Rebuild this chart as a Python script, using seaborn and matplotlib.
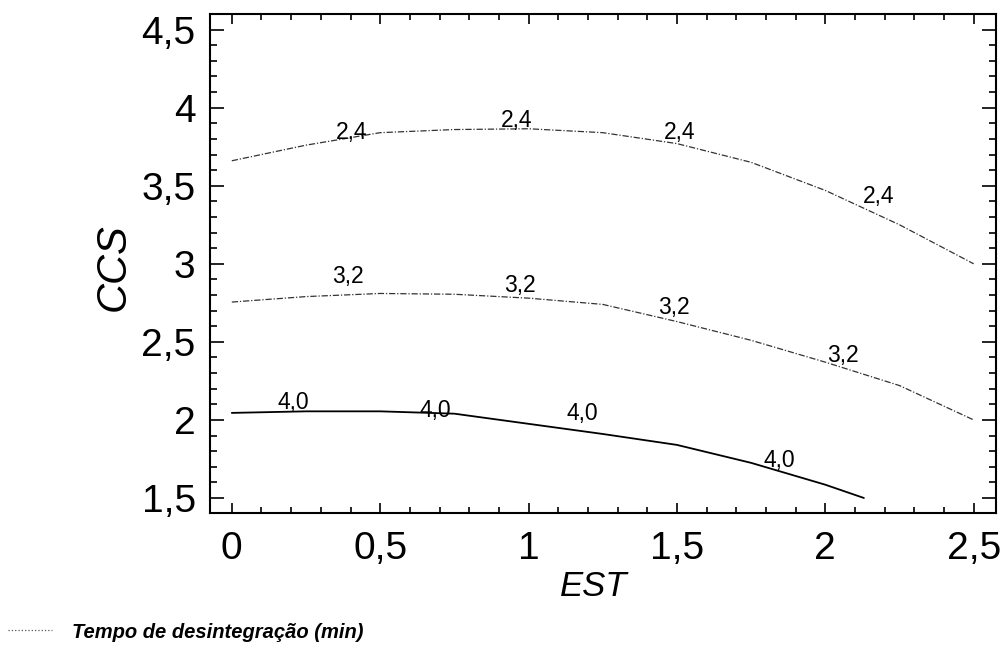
import numpy as np
import pandas as pd
import matplotlib
matplotlib.use("Agg")
import matplotlib.pyplot as plt
from matplotlib.lines import Line2D
from matplotlib.ticker import MultipleLocator, FixedLocator
import seaborn as sns

# ---- data ----
est_24 = [0.0, 0.25, 0.5, 0.75, 1.0, 1.25, 1.5, 1.75, 2.0, 2.25, 2.5]
ccs_24 = [3.66, 3.76, 3.84, 3.86, 3.865, 3.84, 3.77, 3.65, 3.47, 3.25, 3.0]

est_32 = [0.0, 0.25, 0.5, 0.75, 1.0, 1.25, 1.5, 1.75, 2.0, 2.25, 2.5]
ccs_32 = [2.755, 2.79, 2.81, 2.805, 2.78, 2.74, 2.63, 2.51, 2.37, 2.22, 2.0]

est_40 = [0.0, 0.25, 0.5, 0.75, 1.0, 1.25, 1.5, 1.75, 2.0, 2.13]
ccs_40 = [2.045, 2.055, 2.055, 2.04, 1.975, 1.91, 1.84, 1.725, 1.585, 1.5]

levels = ["2,4", "3,2", "4,0"]
label_x_24 = [0.405, 0.96, 1.51, 2.18]
label_y_24 = [3.84, 3.92, 3.84, 3.43]
label_x_32 = [0.39, 0.97, 1.49, 2.06]
label_y_32 = [2.92, 2.86, 2.72, 2.41]
label_x_40 = [0.207, 0.685, 1.18, 1.846]
label_y_40 = [2.11, 2.06, 2.04, 1.743]

xticks = [0, 0.5, 1, 1.5, 2, 2.5]
xticklabels = ["0", "0,5", "1", "1,5", "2", "2,5"]
yticks = [1.5, 2, 2.5, 3, 3.5, 4, 4.5]
yticklabels = ["1,5", "2", "2,5", "3", "3,5", "4", "4,5"]

sns.set_theme(style="ticks")
plt.rcParams["font.family"] = ["Liberation Sans", "DejaVu Sans"]
plt.rcParams.update({"text.color": "black", "axes.labelcolor": "black",
                     "xtick.color": "black", "ytick.color": "black",
                     "xtick.labelcolor": "black", "ytick.labelcolor": "black"})

fig = plt.figure(figsize=(10.06, 6.49), dpi=100)
ax = fig.add_axes([0.2083, 0.2096, 0.7817, 0.7688])

dashdot = (0, (5, 1.5, 1, 1.5))
specs = [
    (est_24, ccs_24, "#333333", dashdot, 0.9, label_x_24, label_y_24, levels[0]),
    (est_32, ccs_32, "#333333", dashdot, 0.9, label_x_32, label_y_32, levels[1]),
    (est_40, ccs_40, "black", "-", 1.3, label_x_40, label_y_40, levels[2]),
]
for xs, ys, col, ls, lw, lx, ly, lab in specs:
    df = pd.DataFrame({"EST": xs, "CCS": ys})
    sns.lineplot(data=df, x="EST", y="CCS", ax=ax, sort=False, estimator=None,
                 color=col, linestyle=ls, linewidth=lw)
    for tx, ty in zip(lx, ly):
        ax.text(tx, ty, lab, ha="center", va="center", fontsize=16.5, color="black")

ax.set_xlim(-0.075, 2.575)
ax.set_ylim(1.404, 4.6)
ax.xaxis.set_major_locator(FixedLocator(xticks))
ax.set_xticklabels(xticklabels)
ax.yaxis.set_major_locator(FixedLocator(yticks))
ax.set_yticklabels(yticklabels)
ax.xaxis.set_minor_locator(MultipleLocator(0.1))
ax.yaxis.set_minor_locator(MultipleLocator(0.1))

ax.tick_params(axis="both", which="both", direction="in", top=True, right=True,
               color="black", width=1.2, labelcolor="black")
ax.tick_params(axis="x", which="major", length=7.5, labelsize=28, pad=13)
ax.tick_params(axis="x", which="minor", length=4.5)
ax.tick_params(axis="y", which="major", length=10, labelsize=28, pad=10)
ax.tick_params(axis="y", which="minor", length=5)
for s in ax.spines.values():
    s.set_linewidth(1.5)
    s.set_color("black")

ax.set_xlabel("EST", fontsize=25, style="italic", color="black")
ax.set_ylabel("CCS", fontsize=30, style="italic", color="black")
ax.xaxis.set_label_coords(0.489, -0.115)
ax.yaxis.set_label_coords(-0.096, 0.493)
ax.grid(False)

handle = Line2D([], [], linestyle=":", color="#555555", linewidth=0.9)
leg = fig.legend(handles=[handle], labels=["Tempo de desintegração (min)"],
                 loc="center left", bbox_to_anchor=(0.008, 1 - 632 / 649), frameon=False,
                 prop=dict(weight="bold", style="italic", size=14.5), handlelength=2.2,
                 handletextpad=1.0, borderaxespad=0.0, borderpad=0.0)
for t in leg.get_texts():
    t.set_color("black")

fig.savefig("out.png", dpi=100)
